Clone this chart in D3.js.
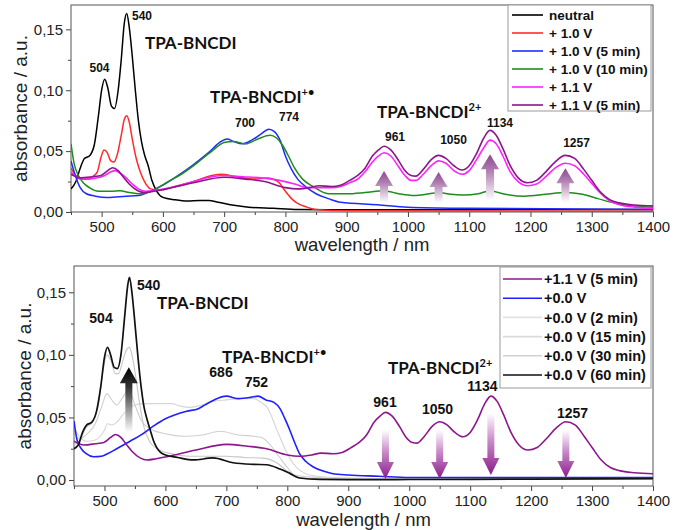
<!DOCTYPE html>
<html><head><meta charset="utf-8">
<script src="https://cdn.jsdelivr.net/npm/d3@7"></script>
<style>body{margin:0;background:#fff}svg{display:block;font-family:"Liberation Sans",Arial,sans-serif}</style>
</head><body><svg id="c" width="675" height="530"></svg>
<script>
// ---------- data (wavelength nm, absorbance a.u.) ----------
const xTicks = [500,600,700,800,900,1000,1100,1200,1300,1400];
const xMinor = [450,550,650,750,850,950,1050,1150,1250,1350];
const yTicks = [0,0.05,0.10,0.15];
const yMinor = [0.025,0.075,0.125];

const topLegend = ["neutral","+ 1.0 V","+ 1.0 V (5 min)","+ 1.0 V (10 min)","+ 1.1 V","+ 1.1 V (5 min)"];
const botLegend = ["+1.1 V (5 min)","+0.0 V","+0.0 V (2 min)","+0.0 V (15 min)","+0.0 V (30 min)","+0.0 V (60 min)"];

const neutral = [[450,0.019],[458,0.025],[465,0.036],[472,0.044],[480,0.046],[488,0.055],[495,0.080],[500,0.100],[505,0.109],[510,0.102],[516,0.087],[521,0.085],[527,0.100],[532,0.125],[537,0.155],[541,0.163],[545,0.152],[550,0.128],[555,0.100],[560,0.075],[565,0.058],[570,0.047],[576,0.038],[582,0.026],[590,0.017],[600,0.012],[620,0.010],[640,0.009],[660,0.0095],[675,0.0095],[690,0.008],[710,0.006],[740,0.004],[780,0.003],[820,0.002],[900,0.0018],[1000,0.0018],[1200,0.002],[1400,0.002]];
const plus10 = [[450,0.036],[458,0.030],[466,0.027],[475,0.027],[485,0.029],[493,0.033],[499,0.045],[504,0.051],[509,0.049],[515,0.042],[520,0.041],[526,0.048],[532,0.063],[537,0.076],[541,0.079],[545,0.074],[550,0.060],[556,0.045],[563,0.033],[570,0.025],[580,0.019],[595,0.018],[620,0.021],[650,0.025],[680,0.030],[695,0.031],[720,0.029],[750,0.027],[770,0.028],[780,0.027],[790,0.024],[800,0.017],[810,0.011],[820,0.007],[835,0.004],[850,0.002],[900,0.001],[1400,0.0006]];
const plus10m5 = [[450,0.042],[457,0.030],[465,0.020],[475,0.015],[490,0.013],[510,0.012],[540,0.013],[560,0.0135],[580,0.017],[600,0.022],[625,0.030],[650,0.039],[675,0.049],[695,0.058],[705,0.060],[715,0.058],[730,0.056],[745,0.059],[760,0.064],[773,0.068],[782,0.066],[792,0.058],[800,0.046],[810,0.035],[820,0.027],[835,0.020],[850,0.015],[870,0.011],[890,0.008],[950,0.006],[1000,0.004],[1100,0.003],[1400,0.002]];
const plus10m10 = [[450,0.056],[455,0.040],[462,0.030],[470,0.024],[480,0.020],[495,0.017],[515,0.017],[530,0.0175],[545,0.016],[565,0.015],[585,0.018],[605,0.024],[630,0.031],[655,0.040],[680,0.050],[700,0.057],[715,0.058],[735,0.056],[755,0.060],[775,0.063],[785,0.061],[795,0.055],[805,0.046],[815,0.036],[828,0.027],[845,0.021],[870,0.015],[900,0.015],[930,0.016],[961,0.0175],[985,0.015],[1010,0.0135],[1035,0.015],[1050,0.016],[1070,0.0145],[1090,0.014],[1115,0.015],[1134,0.0175],[1155,0.015],[1190,0.013],[1225,0.0145],[1257,0.016],[1285,0.0145],[1310,0.011],[1340,0.007],[1370,0.005],[1400,0.004]];
const plus11 = [[450,0.033],[458,0.029],[468,0.027],[480,0.027],[492,0.028],[505,0.030],[515,0.033],[522,0.034],[530,0.032],[540,0.028],[550,0.023],[560,0.019],[572,0.017],[590,0.018],[620,0.021],[650,0.025],[680,0.029],[700,0.030],[730,0.029],[760,0.028],[790,0.026],[815,0.023],[835,0.020],[855,0.020],[875,0.020],[890,0.021],[905,0.024],[918,0.027],[930,0.033],[942,0.041],[952,0.046],[961,0.0486],[972,0.046],[985,0.037],[995,0.030],[1005,0.026],[1013,0.026],[1025,0.031],[1038,0.038],[1050,0.042],[1062,0.040],[1075,0.034],[1088,0.031],[1100,0.034],[1112,0.043],[1124,0.053],[1134,0.059],[1144,0.056],[1155,0.046],[1167,0.033],[1180,0.025],[1195,0.0216],[1210,0.023],[1225,0.029],[1240,0.036],[1257,0.040],[1272,0.038],[1287,0.031],[1300,0.0235],[1315,0.015],[1330,0.009],[1345,0.006],[1370,0.004],[1400,0.003]];
const plus11m5 = [[450,0.031],[466,0.028],[485,0.029],[499,0.030],[510,0.034],[518,0.0364],[527,0.034],[535,0.029],[545,0.023],[559,0.0175],[570,0.016],[585,0.017],[602,0.0186],[650,0.024],[700,0.0285],[735,0.027],[766,0.025],[800,0.020],[820,0.019],[840,0.020],[855,0.0215],[875,0.021],[890,0.022],[905,0.026],[918,0.030],[930,0.036],[942,0.046],[952,0.051],[961,0.054],[972,0.051],[985,0.042],[995,0.034],[1005,0.030],[1013,0.0295],[1025,0.035],[1038,0.043],[1050,0.0465],[1062,0.044],[1075,0.038],[1088,0.0345],[1100,0.038],[1112,0.048],[1124,0.061],[1134,0.067],[1144,0.063],[1155,0.052],[1167,0.038],[1180,0.028],[1195,0.024],[1210,0.026],[1225,0.033],[1240,0.041],[1257,0.0465],[1272,0.044],[1287,0.035],[1300,0.026],[1315,0.016],[1330,0.010],[1345,0.0075],[1370,0.0058],[1400,0.005]];

const zero00 = [[450,0.047],[455,0.032],[462,0.025],[470,0.021],[482,0.0186],[495,0.019],[505,0.021],[520,0.025],[542,0.031],[560,0.036],[580,0.043],[600,0.049],[615,0.052],[635,0.055],[654,0.057],[665,0.060],[680,0.064],[700,0.067],[720,0.065],[740,0.066],[752,0.067],[765,0.064],[778,0.062],[788,0.057],[796,0.049],[804,0.040],[812,0.030],[820,0.021],[830,0.015],[842,0.0106],[860,0.007],[875,0.005],[900,0.004],[950,0.003],[1000,0.002],[1250,0.002],[1400,0.002]];
const zero02 = [[450,0.042],[460,0.034],[470,0.031],[485,0.032],[500,0.040],[505,0.045],[512,0.044],[520,0.046],[530,0.052],[540,0.057],[550,0.060],[565,0.061],[590,0.061],[610,0.061],[625,0.059],[640,0.058],[660,0.060],[680,0.063],[700,0.064],[720,0.065],[745,0.065],[757,0.062],[767,0.058],[783,0.040],[800,0.021],[815,0.010],[830,0.005],[850,0.003],[880,0.002],[1000,0.001],[1400,0.001]];
const zero15 = [[450,0.035],[460,0.033],[472,0.037],[485,0.045],[495,0.058],[504,0.069],[512,0.064],[520,0.060],[530,0.066],[540,0.072],[550,0.060],[560,0.048],[575,0.041],[600,0.037],[630,0.035],[660,0.036],[690,0.039],[720,0.036],[745,0.035],[758,0.034],[772,0.028],[786,0.019],[800,0.010],[812,0.004],[850,0.002],[900,0.001],[1400,0.001]];
const zero30 = [[450,0.028],[460,0.032],[470,0.042],[480,0.046],[490,0.060],[497,0.085],[504,0.100],[510,0.096],[518,0.085],[523,0.085],[530,0.095],[536,0.104],[541,0.106],[546,0.098],[552,0.080],[558,0.060],[565,0.042],[575,0.030],[590,0.024],[610,0.021],[640,0.019],[670,0.019],[700,0.019],[730,0.018],[760,0.0175],[785,0.013],[797,0.008],[810,0.004],[825,0.0015],[860,0.001],[1400,0.001]];
const zero60 = [[450,0.025],[457,0.028],[464,0.038],[471,0.044],[479,0.046],[487,0.055],[494,0.075],[500,0.098],[505,0.106],[510,0.100],[516,0.090],[521,0.089],[527,0.100],[533,0.130],[538,0.155],[541,0.162],[545,0.150],[550,0.125],[555,0.098],[560,0.075],[565,0.058],[569,0.050],[575,0.040],[580,0.032],[592,0.022],[600,0.020],[620,0.018],[646,0.016],[678,0.0176],[711,0.0138],[744,0.0125],[766,0.0122],[788,0.0088],[804,0.0053],[820,0.0016],[853,0.0005],[900,0.0003],[1000,0.0004],[1200,0.0007],[1400,0.001]];

// annotations: [label, wavelength, absorbance, anchor / superscript]
const topNotes = [["540",549.6,0.1574,"start"],["504",496.5,0.1148,"middle"],["700",734,0.0697,"middle"],["774",805.9,0.0746,"middle"],["961",978.9,0.0582,"middle"],["1050",1074.4,0.0557,"middle"],["1134",1150.3,0.0697,"middle"],["1257",1275.2,0.0533,"middle"]];
const topNames = [["TPA-BNCDI",570.8,0.1336,""],["TPA-BNCDI",676.9,0.0893,"+•"],["TPA-BNCDI",949.5,0.077,"2+"]];
const botNotes = [["540",553.4,0.1516,"start"],["504",494.3,0.1253,"middle"],["686",691.2,0.0822,"middle"],["752",749.4,0.0742,"middle"],["961",960.3,0.0583,"middle"],["1050",1046.4,0.0527,"middle"],["1134",1120.2,0.0710,"middle"],["1257",1267.9,0.0495,"middle"]];
const botNames = [["TPA-BNCDI",586.2,0.1365,""],["TPA-BNCDI",692.8,0.0934,"+•"],["TPA-BNCDI",965.2,0.0846,"2+"]];

// arrows: [wavelength, tail absorbance, tip absorbance]
const topArrows = [[961,0.0074,0.0336],[1050,0.0074,0.0328],[1134,0.0098,0.0475],[1257,0.008,0.036]];
const botArrows = [[961,0.040,0.0008],[1050,0.040,0.0008],[1134,0.0535,0.004],[1257,0.040,0.0016]];
const blackArrow = [[540,0.038,0.090]];

// ---------- drawing ----------
const svg = d3.select("#c");
svg.append("rect").attr("width",675).attr("height",530).attr("fill","#fff");
const defs = svg.append("defs");
function grad(id, stops){
  const g = defs.append("linearGradient").attr("id",id).attr("x1",0).attr("y1",0).attr("x2",0).attr("y2",1);
  stops.forEach(s=>g.append("stop").attr("offset",s[0]).attr("stop-color",s[1]));
}
grad("gUp",[[0,"#8e4790"],[0.35,"#ae7db0"],[1,"#ffffff"]]);
grad("gDown",[[0,"#ffffff"],[0.45,"#c88ac8"],[1,"#8a1b8b"]]);
grad("gBlack",[[0,"#000000"],[0.3,"#333333"],[1,"#ffffff"]]);

const fmt = d => d3.format(".2f")(d).replace(".", ",");

function panel(cfg){
  const x = d3.scaleLinear().domain([450,1400]).range([cfg.left,cfg.right]);
  const y = d3.scaleLinear().domain(cfg.yDom).range([cfg.bottom,cfg.top]);
  const g = svg.append("g");
  const clipId = "clip"+cfg.id;
  defs.append("clipPath").attr("id",clipId).append("rect")
    .attr("x",cfg.left).attr("y",cfg.top).attr("width",cfg.right-cfg.left).attr("height",cfg.bottom-cfg.top);

  // axes
  g.append("g").attr("transform",`translate(0,${cfg.bottom})`)
    .call(d3.axisBottom(x).tickValues(xTicks).tickSize(5).tickSizeOuter(0).tickPadding(4).tickFormat(d3.format("d")));
  g.append("g").attr("transform",`translate(0,${cfg.bottom})`)
    .call(d3.axisBottom(x).tickValues(xMinor).tickSize(3).tickSizeOuter(0).tickFormat(""));
  g.append("g").attr("transform",`translate(${cfg.left},0)`)
    .call(d3.axisLeft(y).tickValues(yTicks).tickSize(5).tickSizeOuter(0).tickPadding(3).tickFormat(fmt));
  g.append("g").attr("transform",`translate(${cfg.left},0)`)
    .call(d3.axisLeft(y).tickValues(yMinor).tickSize(3).tickSizeOuter(0).tickFormat(""));
  g.selectAll(".domain").remove();
  g.selectAll(".tick line").attr("stroke","#444");
  g.selectAll(".tick text").attr("font-size",15).attr("fill","#222").attr("font-family","Liberation Sans, Arial, sans-serif");

  // frame
  g.append("rect").attr("x",cfg.left).attr("y",cfg.top).attr("width",cfg.right-cfg.left)
    .attr("height",cfg.bottom-cfg.top).attr("fill","none").attr("stroke","#555").attr("stroke-width",1);

  // axis titles
  g.append("text").attr("x",(cfg.left+cfg.right)/2).attr("y",cfg.xTitleY).attr("text-anchor","middle")
    .attr("font-size",18.5).attr("fill","#222").text("wavelength / nm");
  g.append("text").attr("transform",`translate(${cfg.yTitleX},${(cfg.top+cfg.bottom)/2}) rotate(-90)`)
    .attr("text-anchor","middle").attr("font-size",19).attr("fill","#222").text("absorbance / a.u.");

  // curves
  const line = d3.line().x(d=>x(d[0])).y(d=>y(d[1])).curve(d3.curveMonotoneX);
  const cg = g.append("g").attr("clip-path",`url(#${clipId})`);
  cfg.series.forEach(s=>{
    cg.append("path").datum(s.data).attr("d",line).attr("fill","none")
      .attr("stroke",s.color).attr("stroke-width",s.w).attr("stroke-linejoin","round");
  });

  // arrows
  function arrow(a, fill, headLen, headW, shaftW){
    const cx = x(a[0]), yt = y(a[1]), yp = y(a[2]);
    const dir = yt > yp ? 1 : -1;
    const yb = yp + dir*headLen;
    const p = d3.path();
    p.moveTo(cx-shaftW/2, yt); p.lineTo(cx-shaftW/2, yb); p.lineTo(cx-headW/2, yb);
    p.lineTo(cx, yp); p.lineTo(cx+headW/2, yb); p.lineTo(cx+shaftW/2, yb); p.lineTo(cx+shaftW/2, yt); p.closePath();
    g.append("path").attr("d",p.toString()).attr("fill",fill);
  }
  cfg.arrows.forEach(a=>arrow(a[0],a[1],a[2],a[3],a[4]));

  // annotations
  cfg.notes.forEach(n=>{
    g.append("text").attr("x",x(n[1])).attr("y",y(n[2])).attr("text-anchor",n[3])
      .attr("font-size",cfg.noteSize).attr("font-weight","bold").attr("fill","#111").text(n[0]);
  });
  cfg.names.forEach(n=>{
    const t = g.append("text").attr("x",x(n[1])).attr("y",y(n[2]))
      .attr("font-family","Lato, 'Open Sans', sans-serif").attr("font-size",17).attr("font-weight","bold").attr("fill","#111");
    t.append("tspan").text(n[0]);
    if(n[3]) t.append("tspan").attr("dy",-7).attr("font-size",11).text(n[3]);
  });

  // legend
  const L = cfg.legend;
  g.append("rect").attr("x",L.x).attr("y",L.y).attr("width",L.w).attr("height",L.h)
    .attr("fill","#fff").attr("stroke","#999").attr("stroke-width",1);
  L.labels.forEach((lab,i)=>{
    const yy = L.y0 + i*L.dy;
    g.append("line").attr("x1",L.lx1).attr("x2",L.lx2).attr("y1",yy).attr("y2",yy)
      .attr("stroke",L.colors[i]).attr("stroke-width",1.6);
    g.append("text").attr("x",L.tx).attr("y",yy).attr("dy","0.36em").attr("font-size",L.fs)
      .attr("font-weight","bold").attr("fill","#111").text(lab);
  });
}

const topColors = ["#000000","#ff2a2a","#1f2cff","#1e8c1e","#ff22ff","#8c168c"];
panel({
  id:"t", left:71, right:653, top:5, bottom:212, yDom:[0,0.17],
  xTitleY:251, yTitleX:27, noteSize:12,
  series:[
    {data:neutral,color:topColors[0],w:1.5},
    {data:plus10,color:topColors[1],w:1.5},
    {data:plus10m5,color:topColors[2],w:1.5},
    {data:plus10m10,color:topColors[3],w:1.5},
    {data:plus11,color:topColors[4],w:1.6},
    {data:plus11m5,color:topColors[5],w:1.6}
  ],
  arrows: topArrows.map(a=>[a,"url(#gUp)",15,18,8]),
  notes: topNotes, names: topNames,
  legend:{x:508,y:5,w:143,h:106,y0:15,dy:18,lx1:512,lx2:543,tx:549,fs:13.5,labels:topLegend,colors:topColors}
});

const botColors = ["#8c168c","#1f1fff","#e2e2e2","#dadada","#d2d2d2","#111111"];
panel({
  id:"b", left:74, right:653, top:266, bottom:486, yDom:[-0.0048,0.171],
  xTitleY:526, yTitleX:31, noteSize:14,
  series:[
    {data:zero02,color:"#d6d6d6",w:1.1},
    {data:zero15,color:"#cfcfcf",w:1.1},
    {data:zero30,color:"#c6c6c6",w:1.1},
    {data:zero00,color:botColors[1],w:1.6},
    {data:plus11m5,color:botColors[0],w:1.6},
    {data:zero60,color:botColors[5],w:1.7}
  ],
  arrows: botArrows.map(a=>[a,"url(#gDown)",17,17,7]).concat(blackArrow.map(a=>[a,"url(#gBlack)",16,18,7])),
  notes: botNotes, names: botNames,
  legend:{x:500,y:267,w:151,h:121,y0:279,dy:19.2,lx1:503,lx2:542,tx:544,fs:14.5,labels:botLegend,colors:botColors}
});
</script></body></html>
